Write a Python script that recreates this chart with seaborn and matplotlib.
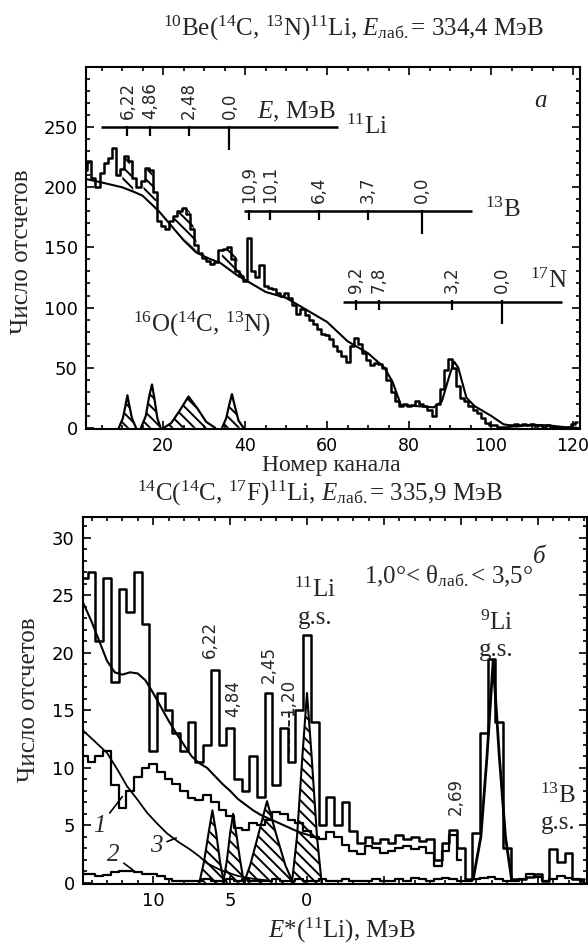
import numpy as np
import seaborn as sns
import matplotlib
matplotlib.use("Agg")
import matplotlib.pyplot as plt
from matplotlib.ticker import MultipleLocator, FixedLocator

# ---------------- panel a: 10Be(14C,13N)11Li, counts per channel ----------------
channel = np.arange(1, 122)
counts_a = [214, 222, 208, 200, 212, 220, 224, 233, 210, 215,
            226, 222, 208, 200, 205, 216, 214, 196, 172, 168,
            165, 172, 176, 180, 183, 178, 165, 152, 145, 141,
            139, 136, 138, 148, 149, 150, 140, 130, 126, 122,
            158, 130, 125, 135, 118, 116, 115, 112, 110, 112,
            108, 102, 95, 99, 94, 90, 86, 82, 78, 77,
            74, 68, 64, 60, 55, 68, 75, 70, 62, 56,
            52, 54, 53, 50, 40, 30, 22, 18, 20, 18,
            19, 22, 20, 18, 15, 10, 20, 32, 48, 57,
            50, 35, 25, 22, 18, 15, 12, 8, 4, 2,
            2, 1, 0.5, 1, 2, 3, 2, 3, 2.5, 3,
            1.5, 2.5, 1, 2, 0.5, 1, 0.5, 0, 1, 3, 5]

bg_ch = [1, 5, 10, 13, 15, 19, 22, 25, 28, 31, 34, 38, 41, 45, 50, 55, 60, 65, 70, 74,
         76, 78, 82, 86, 88, 90, 91, 92, 94, 96, 100, 103, 106, 110, 114, 118, 121]
bg_a = [207, 204, 200, 196, 193, 180, 168, 156, 146, 141, 137, 127, 121, 113, 108, 98, 88, 72, 62, 50,
        38, 19, 18, 17, 22, 45, 55, 50, 25, 18, 10, 3, 1, 2.5, 2, 0.5, 0]

# hatched 11Li states sitting on the background (lower / upper edge)
band_ch = [[9.9, 10.4, 11.0, 11.6, 12.2, 12.8],
           [15.0, 15.6, 16.3, 17.0, 17.7, 18.5],
           [21.5, 22.8, 24.0, 25.3, 26.5, 27.6, 28.7],
           [33.9, 34.8, 35.8, 36.8, 37.8, 38.8, 39.7]]
band_lo = [[200, 199.5, 198.5, 197.5, 197, 196],
           [193, 192, 191, 190, 189, 188],
           [169, 166, 162, 157, 152, 148, 145],
           [138, 135, 132, 130, 128, 126, 124]]
band_hi = [[200, 224, 226, 224, 215, 196],
           [193, 209, 216, 216, 206, 188],
           [169, 174, 179, 183, 180, 165, 145],
           [138, 148, 149, 150, 143, 133, 124]]

# 16O(14C,13N) contaminant peaks at the bottom
peak_a_ch = [[9.2, 10.2, 10.8, 11.3, 11.8, 12.4, 13.4],
             [14.6, 15.8, 16.6, 17.3, 17.9, 18.6, 19.4],
             [20.2, 22.0, 24.0, 26.2, 28.4, 30.5, 32.7],
             [34.4, 35.4, 36.2, 36.8, 37.5, 38.4, 39.6]]
peak_a_val = [[0, 8, 18, 27, 18, 8, 0],
              [0, 10, 26, 36, 24, 8, 0],
              [0, 4, 14, 26, 16, 5, 0],
              [0, 8, 20, 28, 18, 6, 0]]

# energy scales drawn inside panel a
li11_line = [4.9, 62.6]
li11_level = 250
li11_ticks = [11.3, 16.8, 26.3, 36.2]
li11_labels = ["6,22", "4,86", "2,48", "0,0"]
b13_line = [39.8, 95.4]
b13_level = 180
b13_ticks = [41.0, 46.1, 58.0, 69.9, 83.2]
b13_labels = ["10,9", "10,1", "6,4", "3,7", "0,0"]
n17_line = [63.9, 117.3]
n17_level = 105
n17_ticks = [67.1, 72.7, 90.5, 102.7]
n17_labels = ["9,2", "7,8", "3,2", "0,0"]

# ---------------- panel b: 14C(14C,17F)11Li, counts vs E*(11Li) ----------------
e_bins = np.arange(14.5, -18.25, -0.5)
counts_b = [26.5, 27, 21, 26.5, 17.5, 25.5, 23.5, 27, 22.5, 11.5,
            16.5, 15, 13, 11.5, 14, 10.5, 12, 18.5, 12, 13.5,
            9, 8, 11, 7.5, 16.5, 8.5, 13.5, 10.5, 15, 21.5,
            14, 5, 7.5, 5, 7, 4.5, 3.5, 4, 3.5, 3.8,
            3.5, 4.2, 3.8, 4, 3.6, 3.8, 2, 3.5, 4.6, 3,
            0.3, 4.3, 13, 19.5, 14, 3, 0.3, 0.3, 0.5, 0.8,
            0.2, 2.9, 1.8, 2.6, 0.3, 0.3]
curve1_b = [11, 10.5, 11, 11.5, 8.5, 6.5, 8.0, 9.2, 10.0, 10.3,
            9.6, 9.0, 8.6, 8.0, 7.4, 7.2, 7.6, 7.0, 6.3, 5.8,
            4.8, 4.6, 5.2, 5.0, 5.5, 6.2, 6.0, 5.5, 5.2, 4.5,
            4.0, 3.8, 4.4, 4.0, 3.3, 2.8, 2.5, 3.2, 3.0, 2.6,
            2.8, 3.0, 3.2, 2.9, 3.1, 2.6, 1.5, 2.8, 4.2, 2.0]
curve2_b = [0.8, 0.8, 0.6, 0.7, 0.9, 1.0, 1.0, 0.9, 0.8, 0.8,
            0.6, 0.3, 0.2, 0.2, 0.15, 0.2, 0.3, 0.2, 0.15, 0.3,
            0.2, 0.3, 0.2, 0.2, 0.15, 0.3, 0.2, 0.2, 0.3, 0.2,
            0.2, 0.3, 0.2, 0.2, 0.3, 0.2, 0.15, 0.2, 0.3, 0.2,
            0.2, 0.3, 0.2, 0.4, 0.3, 0.2, 0.3, 0.4, 0.3, 0.2,
            0.2, 0.3, 0.4, 0.5, 0.3, 0.2, 0.2, 0.3, 0.8, 0.5,
            0.2, 0.3, 0.6, 0.4, 0.3, 0.2]

# smooth curves
fit_e = [14.6, 14.0, 13.5, 13.0, 12.5, 12.0, 11.5, 11.0, 10.5, 10.0, 9.5, 9.0, 8.5, 8.0,
         7.5, 7.0, 6.5, 6.0, 5.5, 5.0, 4.5, 4.0, 3.5, 3.0, 2.5, 2.0, 1.5, 1.0, 0.5, 0.0, -0.5]
fit_b = [24.5, 22.7, 21.0, 19.3, 18.3, 18.1, 18.3, 18.2, 17.6, 16.5, 15.3, 14.1, 13.0, 12.0,
         11.0, 10.4, 10.0, 9.3, 8.6, 8.0, 7.3, 6.8, 6.3, 5.9, 5.6, 5.3, 5.0, 4.7, 4.4, 4.2, 4.0]
curve3_e = [14.6, 13.8, 13.0, 12.3, 11.7, 11.0, 10.4, 9.7, 9.1, 8.3, 7.6, 7.0, 6.5, 5.6, 4.5, 3.5, 2.5]
curve3_b = [13.3, 12.3, 11.3, 9.8, 8.4, 7.2, 6.1, 5.1, 4.3, 3.5, 2.9, 2.3, 1.7, 1.1, 0.6, 0.35, 0.2]
li9_e = [-10.8, -11.3, -11.7, -12.1, -12.5, -12.9, -13.3]
li9_b = [0.3, 4, 11, 19.3, 11, 4, 0.3]

# hatched 11Li states: 6,22 / 4,84 / 2,45 / g.s.
peak_b_e = [[7.0, 6.7, 6.4, 6.15, 5.9, 5.65, 5.4],
            [5.45, 5.2, 5.0, 4.8, 4.6, 4.35, 4.1],
            [4.1, 3.7, 3.2, 2.6, 2.0, 1.4, 0.9],
            [0.98, 0.65, 0.3, 0.0, -0.3, -0.65, -0.95]]
peak_b_val = [[0, 1.8, 4.3, 6.3, 4.3, 1.8, 0],
              [0, 2.0, 4.3, 6.0, 4.3, 2.0, 0],
              [0, 1.5, 4.0, 7.1, 4.2, 1.5, 0],
              [0, 4.0, 11.0, 16.5, 11.0, 4.0, 0]]

state_e = [6.3, 4.8, 2.5, 1.2, -9.7]
state_y = [21.2, 16.0, 19.0, 16.1, 7.5]
state_labels = ["6,22", "4,84", "2,45", "1,20", "2,69"]
mark_120 = (1.2, 11.3, 14.9)

# ---------------- style ----------------
sns.set_style("ticks")
plt.rcParams["font.family"] = ["DejaVu Sans"]
plt.rcParams["mathtext.fontset"] = "custom"
plt.rcParams["mathtext.rm"] = "Liberation Serif"
plt.rcParams["mathtext.it"] = "Liberation Serif:italic"
plt.rcParams["mathtext.bf"] = "Liberation Serif:bold"
plt.rcParams["hatch.linewidth"] = 1.4
plt.rcParams["axes.linewidth"] = 1.5

SERIF = "Liberation Serif"
FS = 18
HATCH = "\\\\\\"
K = "black"

fig = plt.figure(figsize=(5.88, 9.46), dpi=100)
ax1 = fig.add_axes([86 / 588, 1 - 429 / 946, 494 / 588, 362 / 946])
ax2 = fig.add_axes([83 / 588, 1 - 884 / 946, 504 / 588, 367 / 946])


def style_axis(ax):
    ax.tick_params(which="both", direction="in", top=True, right=True,
                   labelsize=13, width=1.2, colors=K)
    ax.tick_params(which="major", length=6)
    ax.tick_params(which="minor", length=3)
    ax.tick_params(axis="x", which="major", pad=6)
    ax.tick_params(axis="y", which="major", pad=6)
    for s in ax.spines.values():
        s.set_color(K)
        s.set_linewidth(1.5)


# ----- panel a -----
sns.lineplot(x=channel, y=counts_a, ax=ax1, color=K, lw=1.8,
             drawstyle="steps-mid", sort=False, errorbar=None)
sns.lineplot(x=bg_ch, y=bg_a, ax=ax1, color=K, lw=1.5, sort=False, errorbar=None)
for xs, lo, hi in zip(band_ch, band_lo, band_hi):
    ax1.fill_between(xs, lo, hi, facecolor="none", edgecolor=K, hatch=HATCH, linewidth=0)
for xs, ys in zip(peak_a_ch, peak_a_val):
    ax1.fill_between(xs, 0, ys, facecolor="none", edgecolor=K, hatch=HATCH, linewidth=0)
    sns.lineplot(x=xs, y=ys, ax=ax1, color=K, lw=1.6, sort=False, errorbar=None)

for line, level, ticks, labels in [(li11_line, li11_level, li11_ticks, li11_labels),
                                   (b13_line, b13_level, b13_ticks, b13_labels),
                                   (n17_line, n17_level, n17_ticks, n17_labels)]:
    ax1.hlines(level, line[0], line[1], color=K, lw=1.8)
    for i, (t, lab) in enumerate(zip(ticks, labels)):
        depth = 19 if i == len(ticks) - 1 else 7
        ax1.vlines(t, level - depth, level + 1, color=K, lw=1.6)
        ax1.text(t, level + 7, lab, rotation=90, ha="center", va="bottom", fontsize=12)

ax1.text(52.5, 253, r"$E$, МэВ", family=SERIF, fontsize=FS, ha="center", va="bottom")
ax1.text(64.6, 250, r"$^{11}$Li", family=SERIF, fontsize=FS, ha="left", va="center")
ax1.text(98.5, 181, r"$^{13}$B", family=SERIF, fontsize=FS, ha="left", va="center")
ax1.text(109.5, 122, r"$^{17}$N", family=SERIF, fontsize=FS, ha="left", va="center")
ax1.text(29.5, 86, r"$^{16}$O($^{14}$C, $^{13}$N)", family=SERIF, fontsize=FS,
         ha="center", va="center")
ax1.text(112, 272, "а", family=SERIF, fontstyle="italic", fontsize=FS, ha="center", va="center")

ax1.set_xlim(1.2, 121.7)
ax1.set_ylim(-1, 300)
ax1.xaxis.set_major_locator(FixedLocator([20, 40, 60, 80, 100, 120]))
ax1.xaxis.set_minor_locator(MultipleLocator(5))
ax1.yaxis.set_major_locator(FixedLocator([0, 50, 100, 150, 200, 250]))
ax1.yaxis.set_minor_locator(MultipleLocator(10))
ax1.set_xlabel("")
ax1.set_ylabel("")
style_axis(ax1)
ax1.tick_params(axis="x", labelsize=12.5)

# ----- panel b -----
sns.lineplot(x=e_bins, y=counts_b, ax=ax2, color=K, lw=1.8,
             drawstyle="steps-mid", sort=False, errorbar=None)
sns.lineplot(x=e_bins[:len(curve1_b)], y=curve1_b, ax=ax2, color=K, lw=1.6,
             drawstyle="steps-mid", sort=False, errorbar=None)
sns.lineplot(x=e_bins, y=curve2_b, ax=ax2, color=K, lw=1.6,
             drawstyle="steps-mid", sort=False, errorbar=None)
sns.lineplot(x=fit_e, y=fit_b, ax=ax2, color=K, lw=1.5, sort=False, errorbar=None)
sns.lineplot(x=curve3_e, y=curve3_b, ax=ax2, color=K, lw=1.3, sort=False, errorbar=None)
sns.lineplot(x=li9_e, y=li9_b, ax=ax2, color=K, lw=2.0, sort=False, errorbar=None)
for xs, ys in zip(peak_b_e, peak_b_val):
    ax2.fill_between(xs, 0, ys, facecolor="none", edgecolor=K, hatch=HATCH, linewidth=0)
    sns.lineplot(x=xs, y=ys, ax=ax2, color=K, lw=1.5, sort=False, errorbar=None)

for e, y, lab in zip(state_e, state_y, state_labels):
    ax2.text(e, y, lab, rotation=90, ha="center", va="center", fontsize=12)
ax2.vlines(mark_120[0], mark_120[1], mark_120[2], color=K, lw=1.2, linestyles="--")

ax2.text(-0.5, 25.5, r"$^{11}$Li", family=SERIF, fontsize=FS, ha="center", va="center")
ax2.text(-0.5, 23.0, "g.s.", family=SERIF, fontsize=FS, ha="center", va="center")
ax2.text(-12.3, 22.6, r"$^{9}$Li", family=SERIF, fontsize=FS, ha="center", va="center")
ax2.text(-12.3, 20.2, "g.s.", family=SERIF, fontsize=FS, ha="center", va="center")
ax2.text(-16.3, 7.6, r"$^{13}$B", family=SERIF, fontsize=FS, ha="center", va="center")
ax2.text(-16.3, 5.2, "g.s.", family=SERIF, fontsize=FS, ha="center", va="center")
ax2.text(-9.2, 26.6, r"1,0°< θ$_{\mathrm{лаб.}}$< 3,5°", family=SERIF, fontsize=FS,
         ha="center", va="center")
ax2.text(-15.1, 28.3, "б", family=SERIF, fontstyle="italic", fontsize=FS, ha="center", va="center")

for lab, xy, xytext in [("1", (12.0, 7.5), (13.5, 4.9)),
                        ("2", (11.3, 1.1), (12.6, 2.4)),
                        ("3", (8.5, 3.9), (9.8, 3.2))]:
    ax2.annotate(lab, xy=xy, xytext=xytext, family=SERIF, fontstyle="italic", fontsize=FS,
                 ha="center", va="center",
                 arrowprops=dict(arrowstyle="-", color=K, lw=1.2, shrinkA=1, shrinkB=0))

ax2.set_xlim(14.56, -18.2)
ax2.set_ylim(-0.1, 31.8)
ax2.xaxis.set_major_locator(FixedLocator([10, 5, 0, -5, -10, -15]))
ax2.set_xticklabels(["10", "5", "0", "", "", ""])
ax2.xaxis.set_minor_locator(MultipleLocator(1))
ax2.yaxis.set_major_locator(FixedLocator([0, 5, 10, 15, 20, 25, 30]))
ax2.yaxis.set_minor_locator(MultipleLocator(1))
ax2.set_xlabel("")
ax2.set_ylabel("")
style_axis(ax2)

# ----- titles and axis captions -----
fig.text(354 / 588, 1 - 28 / 946,
         r"$^{10}$Be($^{14}$C, $^{13}$N)$^{11}$Li, $E_{\mathrm{лаб.}}$= 334,4 МэВ",
         family=SERIF, fontsize=FS, ha="center", va="center")
fig.text(331 / 588, 1 - 465 / 946, "Номер канала", family=SERIF, fontsize=17,
         ha="center", va="center")
fig.text(320 / 588, 1 - 493 / 946,
         r"$^{14}$C($^{14}$C, $^{17}$F)$^{11}$Li, $E_{\mathrm{лаб.}}$= 335,9 МэВ",
         family=SERIF, fontsize=FS, ha="center", va="center")
fig.text(342 / 588, 1 - 930 / 946, r"$E$*($^{11}$Li), МэВ", family=SERIF, fontsize=FS,
         ha="center", va="center")
fig.text(22 / 588, 1 - 252 / 946, "Число отсчетов", family=SERIF, fontsize=FS,
         rotation=90, ha="center", va="center")
fig.text(29 / 588, 1 - 700 / 946, "Число отсчетов", family=SERIF, fontsize=FS,
         rotation=90, ha="center", va="center")

fig.savefig("out.png", dpi=100, facecolor="white")
